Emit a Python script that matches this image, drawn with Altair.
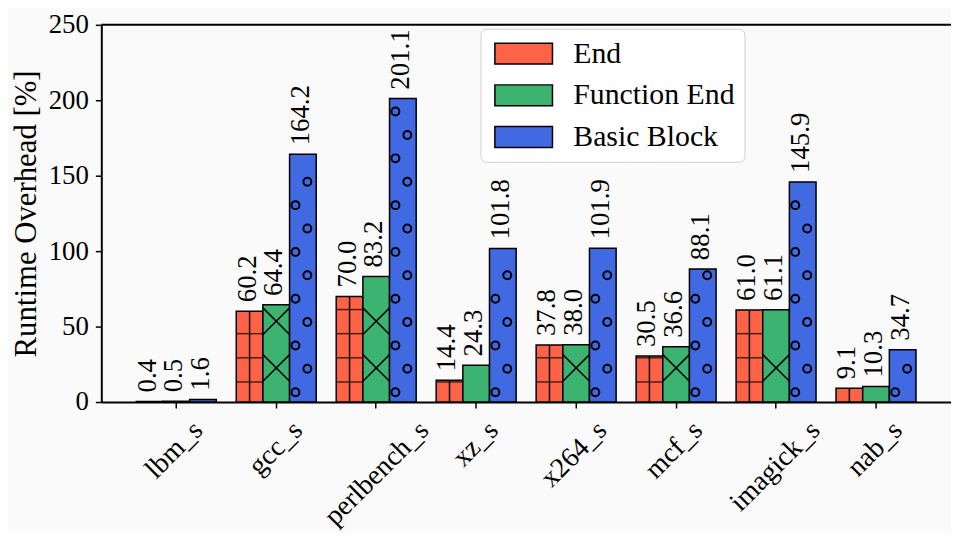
import altair as alt
import pandas as pd

benchmarks = ["lbm_s", "gcc_s", "perlbench_s", "xz_s", "x264_s", "mcf_s", "imagick_s", "nab_s"]
variants = ["End", "Function End", "Basic Block"]
end_vals = [0.4, 60.2, 70.0, 14.4, 37.8, 30.5, 61.0, 9.1]
func_end_vals = [0.5, 64.4, 83.2, 24.3, 38.0, 36.6, 61.1, 10.3]
basic_block_vals = [1.6, 164.2, 201.1, 101.8, 101.9, 88.1, 145.9, 34.7]
colors = ["#FF6347", "#3CB371", "#4169E1"]
y_ticks = [0, 50, 100, 150, 200, 250]

rows = []
for i, b in enumerate(benchmarks):
    for v, vals in zip(variants, [end_vals, func_end_vals, basic_block_vals]):
        rows.append({"benchmark": b, "variant": v, "value": vals[i]})
df = pd.DataFrame(rows)

FONT = "Liberation Serif"

x_enc = alt.X("benchmark:N", sort=benchmarks, title=None,
              scale=alt.Scale(paddingInner=0.2, paddingOuter=0.35),
              axis=alt.Axis(labelAngle=315, labelAlign="right", labelBaseline="top",
                            labelFontSize=28, labelFont=FONT, labelColor="black",
                            labelPadding=8,
                            labelOffset={"expr": "length(datum.label) * 4.4 - 9.6"},
                            domainColor="black", domainWidth=2, tickColor="black",
                            tickWidth=1.5, tickSize=6))
xo_enc = alt.XOffset("variant:N", sort=variants, scale=alt.Scale(paddingInner=0, paddingOuter=0))
y_enc = alt.Y("value:Q", title="Runtime Overhead [%]",
              scale=alt.Scale(domain=[0, 250], nice=False),
              axis=alt.Axis(values=y_ticks, grid=False, labelFontSize=27, labelFont=FONT,
                            labelColor="black", labelPadding=7, domainColor="black",
                            domainWidth=2, tickColor="black", tickWidth=1.5, tickSize=6,
                            titleFont=FONT, titleFontSize=31, titleFontWeight="normal",
                            titleColor="black", titlePadding=6))

base = alt.Chart(df)

bars = base.mark_bar(stroke="black", strokeWidth=1.5).encode(
    x=x_enc, xOffset=xo_enc, y=y_enc,
    color=alt.Color("variant:N", sort=variants,
                    scale=alt.Scale(domain=variants, range=colors),
                    legend=alt.Legend(title=None, orient="none", legendX=382, legendY=4,
                                      direction="vertical", fillColor="white",
                                      strokeColor="#d0d0d0", cornerRadius=6, padding=10,
                                      labelFont=FONT, labelFontSize=30, labelColor="black",
                                      labelLimit=400,
                                      symbolType="M-2.762,-1H2.762V1H-2.762Z", symbolSize=441,
                                      symbolOffset=18.5,
                                      symbolStrokeColor="black", symbolStrokeWidth=1.5,
                                      symbolOpacity=1, labelOffset=35, rowPadding=12)),
)

# hatch decorations
plus_h = base.transform_filter(alt.datum.variant == "End").transform_calculate(
    lv="sequence(13.3, datum.value - 1, 16)").transform_flatten(["lv"]).mark_tick(
    orient="horizontal", color="black", thickness=1.5, size=26).encode(
    x=alt.X("benchmark:N", sort=benchmarks), xOffset=xo_enc, y=alt.Y("lv:Q"))
plus_v = base.transform_filter(alt.datum.variant == "End").mark_rule(
    color="black", strokeWidth=1.5).encode(
    x=alt.X("benchmark:N", sort=benchmarks), xOffset=xo_enc,
    y=alt.Y("value:Q"), y2=alt.datum(0))
cross = base.transform_filter(alt.datum.variant == "Function End").transform_calculate(
    lv="sequence(22.6, datum.value - 8.6, 31)").transform_flatten(["lv"]).mark_point(
    shape="M-1,-1L1,1M1,-1L-1,1", size=718, filled=False, color="black",
    strokeWidth=1.5, opacity=1).encode(
    x=alt.X("benchmark:N", sort=benchmarks), xOffset=xo_enc, y=alt.Y("lv:Q"))
circ_a = base.transform_filter(alt.datum.variant == "Basic Block").transform_calculate(
    lv="sequence(6.5, datum.value - 3, 31)").transform_flatten(["lv"]).mark_point(
    shape="M-1.15,0A0.4,0.4 0 1,0 -0.35,0A0.4,0.4 0 1,0 -1.15,0Z", size=400,
    filled=False, color="black", strokeWidth=2, opacity=1).encode(
    x=alt.X("benchmark:N", sort=benchmarks), xOffset=xo_enc, y=alt.Y("lv:Q"))
circ_b = base.transform_filter(alt.datum.variant == "Basic Block").transform_calculate(
    lv="sequence(22, datum.value - 3, 31)").transform_flatten(["lv"]).mark_point(
    shape="M0.05,0A0.4,0.4 0 1,0 0.85,0A0.4,0.4 0 1,0 0.05,0Z", size=400,
    filled=False, color="black", strokeWidth=2, opacity=1).encode(
    x=alt.X("benchmark:N", sort=benchmarks), xOffset=xo_enc, y=alt.Y("lv:Q"))

labels = base.mark_text(angle=270, align="left", baseline="middle", dx=9, dy=-2, fontSize=27,
                        font=FONT, color="black").encode(
    x=alt.X("benchmark:N", sort=benchmarks), xOffset=xo_enc, y=alt.Y("value:Q"),
    text=alt.Text("value:Q", format=".1f"))

top_rule = alt.Chart(pd.DataFrame({"v": [250]})).mark_rule(color="black", strokeWidth=2).encode(
    y=alt.Y("v:Q"))

chart = alt.layer(bars, plus_h, plus_v, cross, circ_a, circ_b, labels, top_rule).properties(
    width=856, height=380,
    autosize=alt.AutoSizeParams(type="none"),
    padding={"left": 94, "top": 15, "right": 0, "bottom": 130},
    background="#fafafa",
).configure_view(stroke=None)

chart.save("out.html", embed_options={"renderer": "svg", "actions": False})
